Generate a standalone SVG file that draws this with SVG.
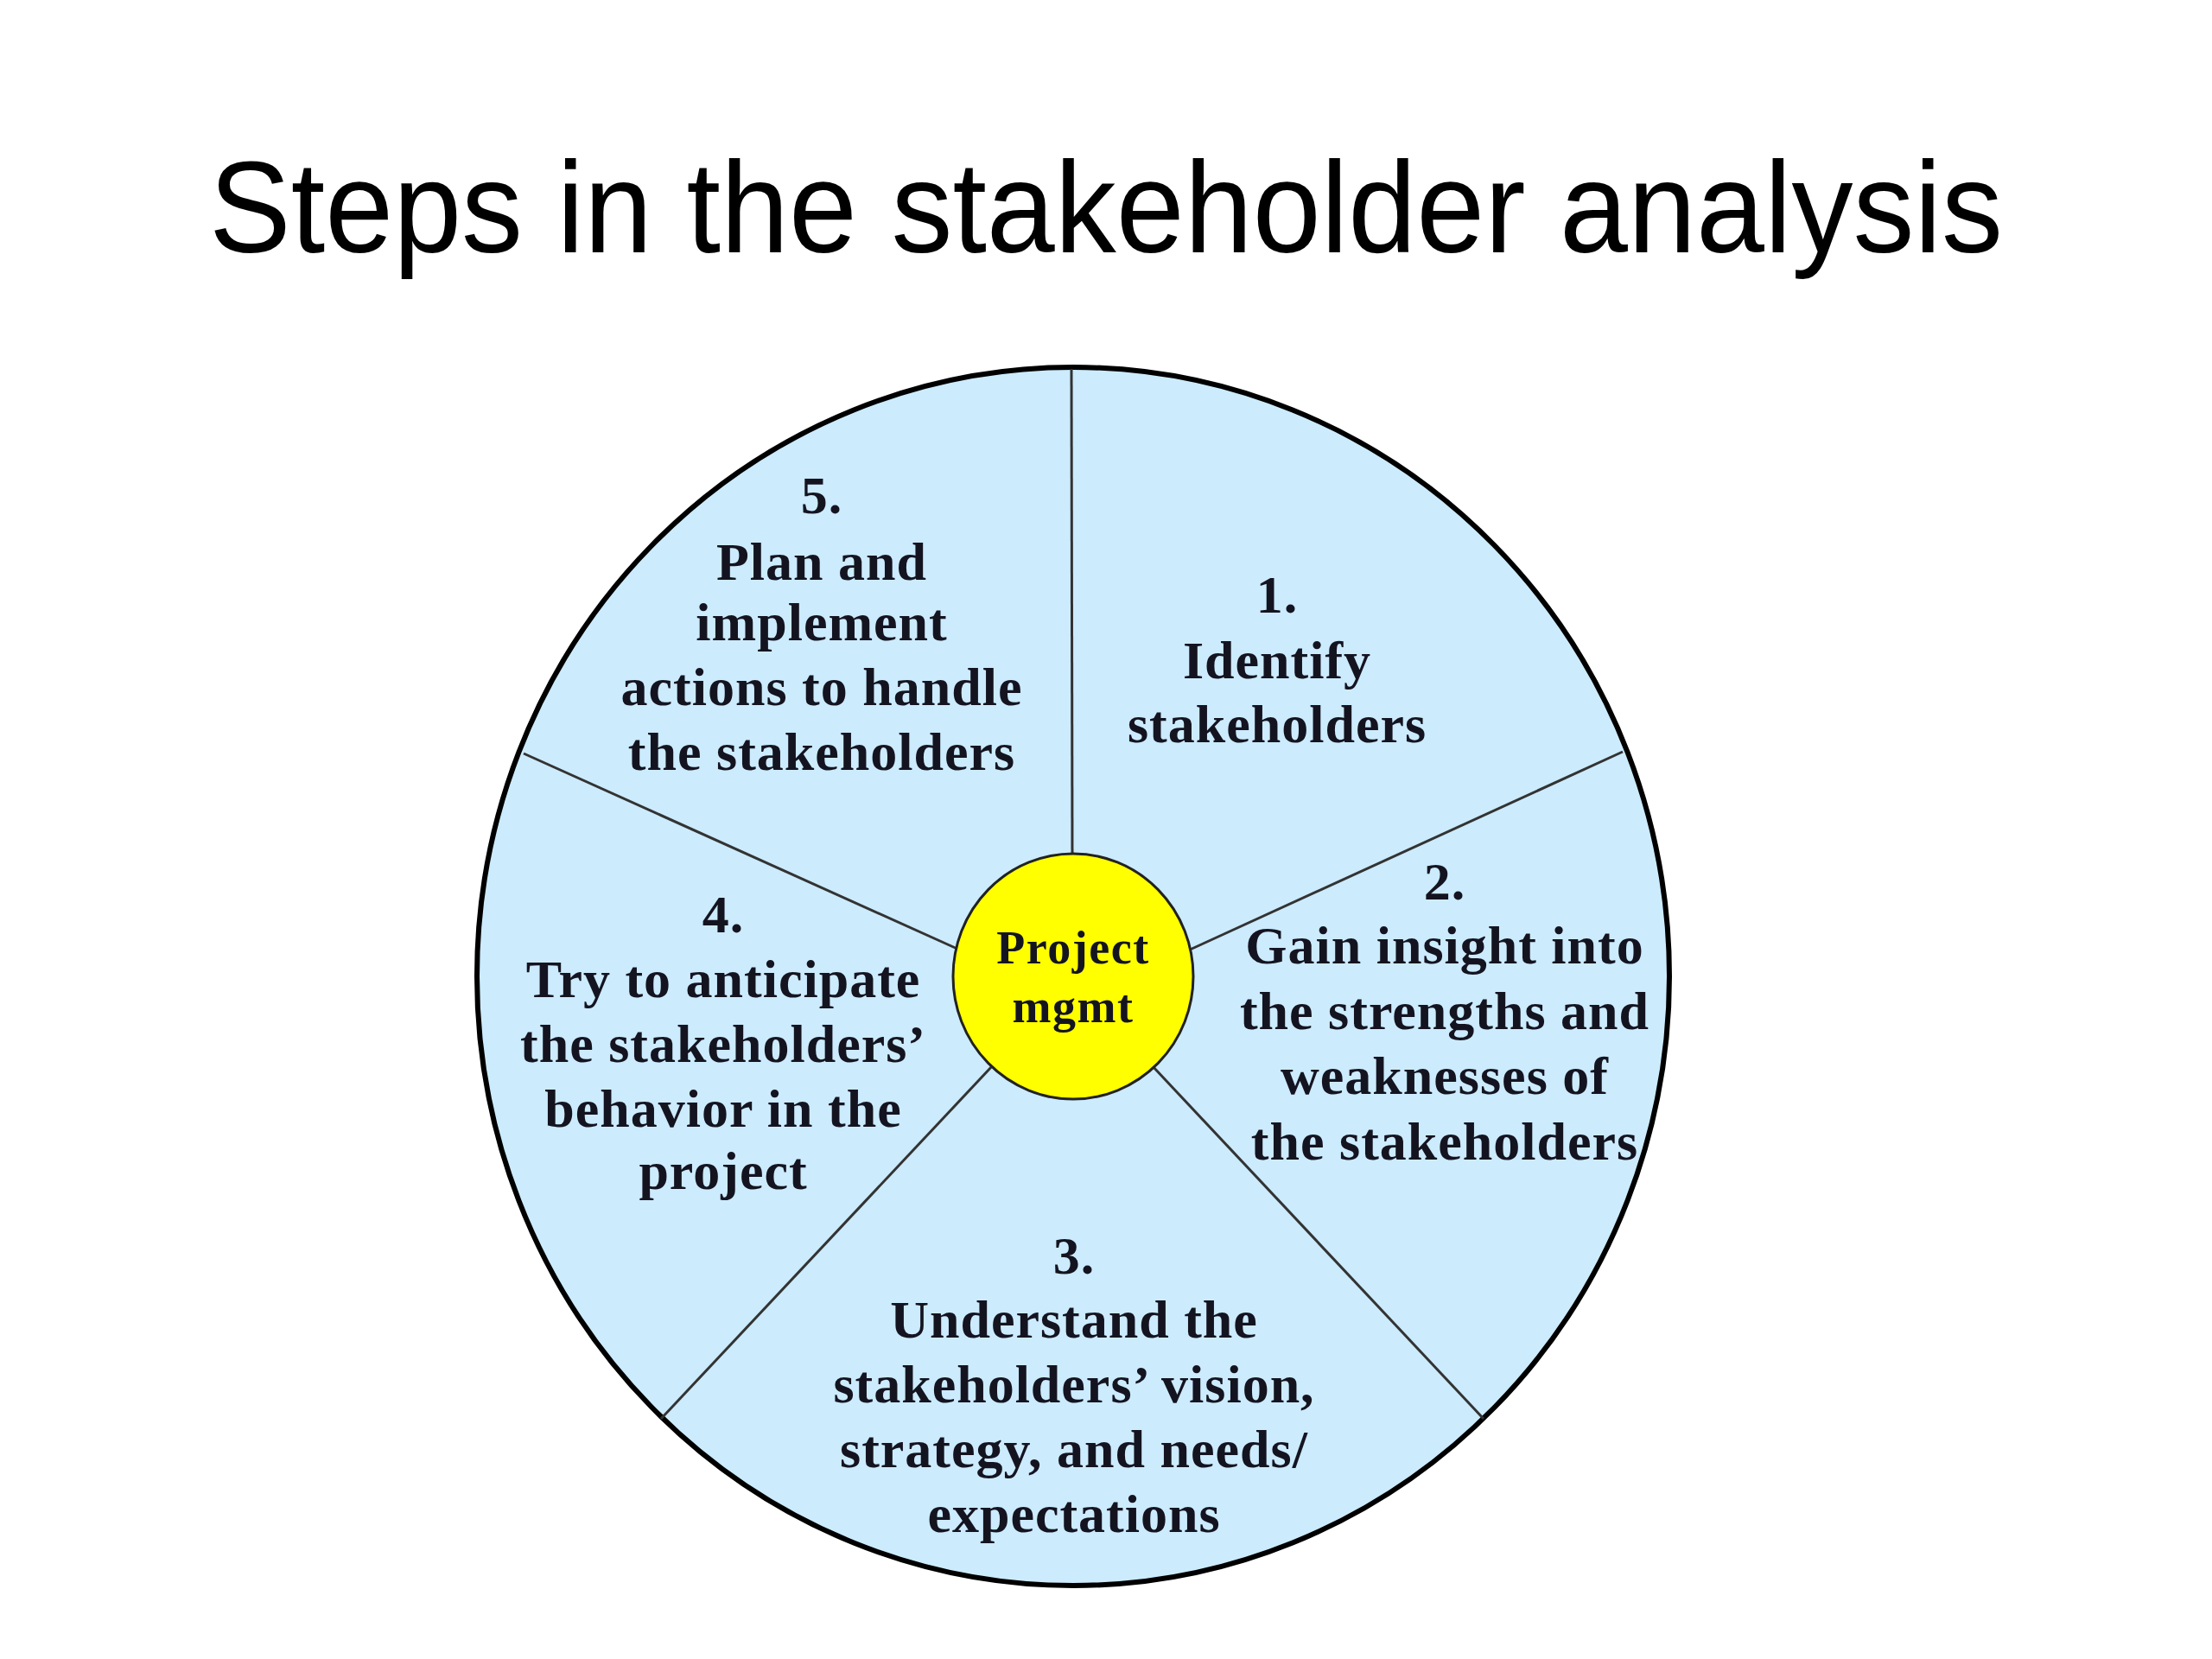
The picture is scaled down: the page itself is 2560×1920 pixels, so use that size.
<svg xmlns="http://www.w3.org/2000/svg" width="2560" height="1920" viewBox="0 0 2560 1920">
<style>
.title{font-family:"Liberation Sans",Arial,sans-serif;font-size:150px;fill:#000}
.lbl{font-family:"Liberation Serif","Times New Roman",serif;font-weight:bold;font-size:62px;letter-spacing:1px;fill:#141420;text-anchor:middle}
.ctr{font-family:"Liberation Serif","Times New Roman",serif;font-weight:bold;font-size:54px;letter-spacing:1.5px;fill:#141420;text-anchor:middle}
.spoke{stroke:#333;stroke-width:3;fill:none}
</style>
<rect width="2560" height="1920" fill="#fff"/>
<text class="title" x="1280" y="292" text-anchor="middle" textLength="2076" lengthAdjust="spacingAndGlyphs">Steps in the stakeholder analysis</text>
<g id="wheel">
<ellipse cx="1242" cy="1130" rx="690" ry="705" fill="#CCEBFD" stroke="#000" stroke-width="6"/>
</g>
<g id="connectors">
<line class="spoke" x1="1240" y1="427" x2="1241" y2="995"/>
<line class="spoke" x1="1878" y1="870" x2="1375" y2="1100"/>
<line class="spoke" x1="1717" y1="1642" x2="1333" y2="1233"/>
<line class="spoke" x1="765" y1="1642" x2="1149" y2="1233"/>
<line class="spoke" x1="606" y1="872" x2="1110" y2="1099"/>
</g>
<g id="step1">
<text class="lbl" x="1478" y="709">1.</text>
<text class="lbl" x="1478" y="785">Identify</text>
<text class="lbl" x="1478" y="859">stakeholders</text>
</g>
<g id="step2">
<text class="lbl" x="1672" y="1041">2.</text>
<text class="lbl" x="1672" y="1115">Gain insight into</text>
<text class="lbl" x="1672" y="1191">the strengths and</text>
<text class="lbl" x="1672" y="1266">weaknesses of</text>
<text class="lbl" x="1672" y="1342">the stakeholders</text>
</g>
<g id="step3">
<text class="lbl" x="1243" y="1474">3.</text>
<text class="lbl" x="1243" y="1548">Understand the</text>
<text class="lbl" x="1243" y="1623">stakeholders’ vision,</text>
<text class="lbl" x="1243" y="1698">strategy, and needs/</text>
<text class="lbl" x="1243" y="1773">expectations</text>
</g>
<g id="step4">
<text class="lbl" x="837" y="1079">4.</text>
<text class="lbl" x="837" y="1154">Try to anticipate</text>
<text class="lbl" x="837" y="1229">the stakeholders’</text>
<text class="lbl" x="837" y="1304">behavior in the</text>
<text class="lbl" x="837" y="1376">project</text>
</g>
<g id="step5">
<text class="lbl" x="951" y="594">5.</text>
<text class="lbl" x="951" y="671">Plan and</text>
<text class="lbl" x="951" y="741">implement</text>
<text class="lbl" x="951" y="816">actions to handle</text>
<text class="lbl" x="951" y="891">the stakeholders</text>
</g>
<g id="center">
<ellipse cx="1242" cy="1130" rx="139" ry="142" fill="#FFFF00" stroke="#222" stroke-width="3"/>
<text class="ctr" x="1242" y="1115">Project</text>
<text class="ctr" x="1242" y="1183">mgmt</text>
</g>
</svg>
